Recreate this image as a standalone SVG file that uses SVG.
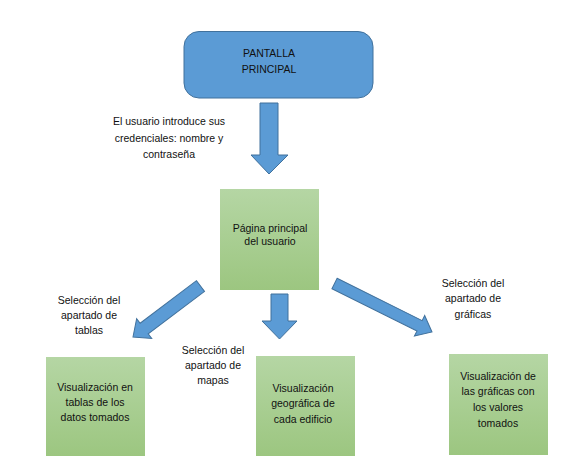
<svg xmlns="http://www.w3.org/2000/svg" width="577" height="466" viewBox="0 0 577 466">
<defs>
<linearGradient id="g" x1="0" y1="0" x2="0" y2="1">
<stop offset="0" stop-color="#B5D6A4"/>
<stop offset="1" stop-color="#9CC680"/>
</linearGradient>
<style>
text{font-family:"Liberation Sans",Arial,sans-serif;font-size:10.5px;fill:#111;text-anchor:middle}
.box{fill:url(#g)}
.arr{fill:#5B9BD5;stroke:#41719C;stroke-width:1}
</style>
</defs>
<rect width="577" height="466" fill="#fff"/>
<g id="connectors">
<polygon class="arr" points="260,103 278,103 278,155 288,155 269,174 251,155 260,155"/>
<polygon class="arr" points="271,294 288,294 288,321 297,321 279.5,339 262,321 271,321"/>
<polygon class="arr" transform="translate(200.5 286) rotate(142.93)" points="0,-6.7 70.6,-6.7 70.6,-12.5 84.6,0 70.6,12.5 70.6,6.7 0,6.7"/>
<polygon class="arr" transform="translate(334.5 283.5) rotate(26.45)" points="0,-5.8 95,-5.8 95,-11.5 108.9,0 95,11.5 95,5.8 0,5.8"/>
<text x="169" y="125">El usuario introduce sus</text>
<text x="169" y="142">credenciales: nombre y</text>
<text x="169" y="158">contraseña</text>
<text x="89" y="304">Selección del</text>
<text x="89" y="319">apartado de</text>
<text x="89" y="334">tablas</text>
<text x="213" y="354">Selección del</text>
<text x="213" y="369">apartado de</text>
<text x="213" y="384">mapas</text>
<text x="473" y="287">Selección del</text>
<text x="473" y="302">apartado de</text>
<text x="473" y="318">gráficas</text>
</g>
<g id="pantalla">
<rect x="184" y="31.5" width="189" height="66.5" rx="15" fill="#5B9BD5" stroke="#41719C" stroke-width="1"/>
<text x="269" y="57">PANTALLA</text>
<text x="269" y="73">PRINCIPAL</text>
</g>
<g id="pagina">
<rect class="box" x="220" y="189" width="99" height="101"/>
<text x="270" y="232">Página principal</text>
<text x="270" y="245">del usuario</text>
</g>
<g id="tablas">
<rect class="box" x="46" y="357" width="99" height="99"/>
<text x="95" y="391">Visualización en</text>
<text x="95" y="406">tablas de los</text>
<text x="95" y="421">datos tomados</text>
</g>
<g id="mapas">
<rect class="box" x="256" y="356" width="99" height="100"/>
<text x="303" y="392">Visualización</text>
<text x="303" y="407">geográfica de</text>
<text x="303" y="423">cada edificio</text>
</g>
<g id="graficas">
<rect class="box" x="449" y="354" width="99" height="101"/>
<text x="498" y="380">Visualización de</text>
<text x="498" y="395">las gráficas con</text>
<text x="498" y="411">los valores</text>
<text x="498" y="427">tomados</text>
</g>
</svg>
